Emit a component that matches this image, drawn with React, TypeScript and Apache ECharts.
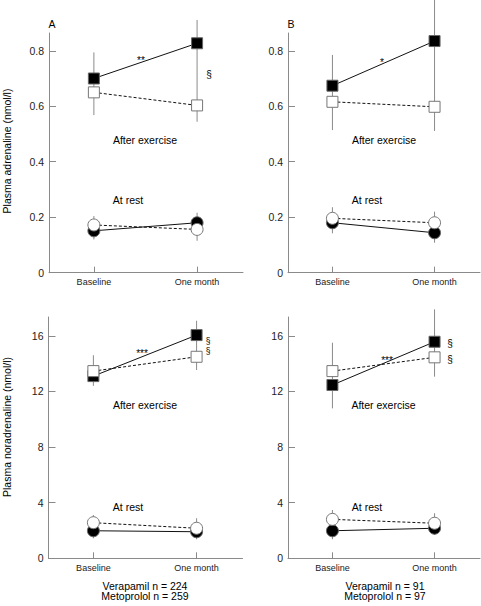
import React, { useEffect, useRef } from 'react';
import * as echarts from 'echarts';

const categories = ['Baseline', 'One month'];
const adrTicks = [0, 0.2, 0.4, 0.6, 0.8];
const noradTicks = [0, 4, 8, 12, 16];

// Panel A: plasma adrenaline, Verapamil n = 224 / Metoprolol n = 259
const aExFilled = [0.700, 0.827];
const aExOpen = [0.650, 0.603];
const aRestFilled = [0.151, 0.180];
const aRestOpen = [0.172, 0.156];
const aExErr = [[0.568, 0.794], [0.544, 0.911]];
const aRestErr = [[0.120, 0.204], [0.115, 0.216]];

// Panel B: plasma adrenaline, Verapamil n = 91 / Metoprolol n = 97
const bExFilled = [0.674, 0.835];
const bExOpen = [0.616, 0.598];
const bRestFilled = [0.180, 0.144];
const bRestOpen = [0.196, 0.180];
const bExErr = [[0.514, 0.785], [0.511, 0.983]];
const bRestErr = [[0.142, 0.236], [0.108, 0.220]];

// Panel C: plasma noradrenaline, n = 224 / 259
const cExFilled = [13.1, 16.05];
const cExOpen = [13.46, 14.49];
const cRestFilled = [1.98, 1.91];
const cRestOpen = [2.56, 2.16];
const cExErr = [[12.4, 14.6], [13.54, 17.08]];
const cRestErr = [[1.44, 3.11], [1.37, 2.88]];

// Panel D: plasma noradrenaline, n = 91 / 97
const dExFilled = [12.46, 15.57];
const dExOpen = [13.46, 14.45];
const dRestFilled = [1.98, 2.16];
const dRestOpen = [2.80, 2.52];
const dExErr = [[10.78, 15.5], [13.06, 17.9]];
const dRestErr = [[1.37, 3.47], [1.68, 3.24]];

const FONT = 'Liberation Sans';

const panels = [
  { grid: { left: 49, top: 33, width: 194, height: 239.7 }, max: 0.864, ticks: adrTicks, dec: 1,
    exF: aExFilled, exO: aExOpen, rF: aRestFilled, rO: aRestOpen, exE: aExErr, rE: aRestErr },
  { grid: { left: 288, top: 33, width: 192, height: 239.7 }, max: 0.864, ticks: adrTicks, dec: 1,
    exF: bExFilled, exO: bExOpen, rF: bRestFilled, rO: bRestOpen, exE: bExErr, rE: bRestErr },
  { grid: { left: 48.5, top: 317, width: 194, height: 241.3 }, max: 17.35, ticks: noradTicks, dec: 0,
    exF: cExFilled, exO: cExOpen, rF: cRestFilled, rO: cRestOpen, exE: cExErr, rE: cRestErr },
  { grid: { left: 288, top: 317, width: 192, height: 241.3 }, max: 17.35, ticks: noradTicks, dec: 0,
    exF: dExFilled, exO: dExOpen, rF: dRestFilled, rO: dRestOpen, exE: dExErr, rE: dRestErr },
];

const txt = (text: string, x: number, y: number, size = 10.5, extra: any = {}, styleExtra: any = {}) => ({
  type: 'text', x, y, silent: true, ...extra,
  style: { text, fontSize: size, fontFamily: FONT, fill: '#000', textAlign: 'center', textVerticalAlign: 'middle', ...styleExtra },
});

export default function App() {
  const ref = useRef<HTMLDivElement>(null);
  useEffect(() => {
    if (!ref.current) return;
    const chart = echarts.init(ref.current, null, { renderer: 'svg' });
    const axisColor = '#8a8a8a';
    const grids: any[] = [];
    const xAxes: any[] = [];
    const yAxes: any[] = [];
    const series: any[] = [];
    panels.forEach((p, i) => {
      grids.push({ ...p.grid, containLabel: false });
      xAxes.push({
        type: 'value', gridIndex: i, min: 0.565, max: 2.445,
        axisLine: { show: true, lineStyle: { color: axisColor, width: 1 } },
        axisTick: { show: true, inside: true, length: 6, customValues: [1, 2], lineStyle: { color: axisColor } },
        axisLabel: {
          customValues: [1, 2], margin: 5, fontSize: 9, fontFamily: FONT, color: '#222',
          formatter: (v: number) => categories[Math.round(v) - 1] || '',
        },
        splitLine: { show: false },
      });
      yAxes.push({
        type: 'value', gridIndex: i, min: 0, max: p.max,
        axisLine: { show: true, lineStyle: { color: axisColor, width: 1 } },
        axisTick: { show: true, inside: true, length: 7, customValues: p.ticks, lineStyle: { color: axisColor } },
        axisLabel: {
          customValues: p.ticks, margin: 5, fontSize: 10.5, fontFamily: FONT, color: '#222',
          formatter: (v: number) => (v === 0 ? '0' : v.toFixed(p.dec)),
        },
        splitLine: { show: false },
      });
      const errData = [
        ...p.exE.map((e, k) => [k + 1, e[0], e[1]]),
        ...p.rE.map((e, k) => [k + 1, e[0], e[1]]),
      ];
      series.push({
        type: 'custom', xAxisIndex: i, yAxisIndex: i, clip: false, z: 1,
        data: errData, encode: { x: 0, y: [1, 2] },
        renderItem: (_params: any, api: any) => {
          const x = api.value(0);
          const p1 = api.coord([x, api.value(1)]);
          const p2 = api.coord([x, api.value(2)]);
          return {
            type: 'line',
            shape: { x1: p1[0], y1: p1[1], x2: p2[0], y2: p2[1] },
            style: { stroke: '#8a8a8a', lineWidth: 1 },
          };
        },
      });
      const mk = (vals: number[], filled: boolean, symbol: string, size: number, z: number) => ({
        type: 'line', xAxisIndex: i, yAxisIndex: i, z,
        data: vals.map((v, k) => [k + 1, v]),
        symbol, symbolSize: size, showSymbol: true,
        lineStyle: { color: '#111', width: 1, type: filled ? 'solid' : [3, 2] },
        itemStyle: {
          color: filled ? '#000' : '#fff',
          borderColor: filled ? '#666' : '#777',
          borderWidth: 1,
        },
        emphasis: { disabled: true },
      });
      series.push(mk(p.exF, true, 'rect', 11, 2));
      series.push(mk(p.exO, false, 'rect', 11, 3));
      series.push(mk(p.rF, true, 'circle', 12, 2));
      series.push(mk(p.rO, false, 'circle', 12, 3));
    });

    const graphic = [
      txt('A', 52, 23.5, 10.5),
      txt('B', 291, 23.5, 10.5),
      txt('Plasma adrenaline (nmol/l)', 7, 151, 10.5, { rotation: Math.PI / 2 }),
      txt('Plasma noradrenaline (nmol/l)', 7, 427, 10.5, { rotation: Math.PI / 2 }),
      // Panel A
      txt('**', 141, 60, 10),
      txt('§', 209, 74, 10),
      txt('After exercise', 145, 140),
      txt('At rest', 128, 200),
      // Panel B
      txt('*', 382, 62, 10),
      txt('After exercise', 384, 140),
      txt('At rest', 367, 200),
      // Panel C
      txt('***', 142, 353, 10),
      txt('§\n§', 208, 346, 8.5, {}, { lineHeight: 9.5 }),
      txt('After exercise', 145, 405),
      txt('At rest', 128, 506.5),
      // Panel D
      txt('***', 387, 360, 10),
      txt('§', 450, 343, 10),
      txt('§', 450, 359, 10),
      txt('After exercise', 383.5, 405),
      txt('At rest', 367, 506.5),
      // n labels
      txt('Verapamil n = 224', 145, 585.5, 10.5),
      txt('Metoprolol n = 259', 145, 596, 10.5),
      txt('Verapamil n = 91', 385, 585.5, 10.5),
      txt('Metoprolol n = 97', 385, 596, 10.5),
    ];

    chart.setOption({
      animation: false,
      backgroundColor: '#fff',
      grid: grids,
      xAxis: xAxes,
      yAxis: yAxes,
      series,
      graphic,
    });
    return () => chart.dispose();
  }, []);
  return <div ref={ref} style={{ position: 'absolute', left: 0, top: 0, width: 481, height: 606 }} />;
}
